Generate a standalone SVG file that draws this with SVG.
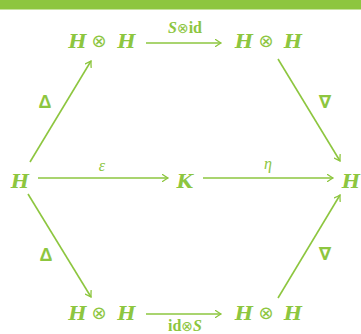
<svg xmlns="http://www.w3.org/2000/svg" width="361" height="334" viewBox="0 0 361 334">
<style>
.n{font-family:"DejaVu Serif",serif;font-weight:bold;font-style:italic;font-size:19px;fill:#8dc63f;text-anchor:middle}
.o{font-family:"DejaVu Sans",sans-serif;font-size:18px;fill:#8dc63f;text-anchor:middle}
.l{font-family:"Liberation Serif","DejaVu Serif",serif;font-size:16px;fill:#8dc63f;text-anchor:middle}
.b{font-weight:bold}
.i{font-style:italic}
.d{font-family:"Liberation Sans","DejaVu Sans",sans-serif;font-size:18px;font-weight:bold;fill:#8dc63f;text-anchor:middle}
.e{stroke:#8dc63f;stroke-width:1.6;fill:none}
</style>
<defs>
<marker id="ah" viewBox="-6 -4 7 8" refX="0" refY="0" markerWidth="7" markerHeight="8" markerUnits="userSpaceOnUse" orient="auto">
<path d="M-5.5,-3.5 Q-1.5,-0.8 0,0 Q-1.5,0.8 -5.5,3.5" fill="none" stroke="#8dc63f" stroke-width="1.3" stroke-linecap="round"/>
</marker>
</defs>
<rect x="0" y="0" width="361" height="9.5" fill="#8dc63f"/>
<g id="connectors">
<line class="e" x1="146" y1="43" x2="221" y2="43" marker-end="url(#ah)"/>
<line class="e" x1="146" y1="314" x2="221" y2="314" marker-end="url(#ah)"/>
<line class="e" x1="38" y1="178" x2="168" y2="178" marker-end="url(#ah)"/>
<line class="e" x1="203" y1="178" x2="333" y2="178" marker-end="url(#ah)"/>
<line class="e" x1="30" y1="162" x2="91" y2="61" marker-end="url(#ah)"/>
<line class="e" x1="278" y1="59" x2="340" y2="161" marker-end="url(#ah)"/>
<line class="e" x1="28" y1="194" x2="91" y2="297" marker-end="url(#ah)"/>
<line class="e" x1="278" y1="298" x2="340" y2="195" marker-end="url(#ah)"/>
<text class="l" x="185" y="33"><tspan class="b i">S</tspan><tspan font-family="DejaVu Sans" font-size="14">⊗</tspan><tspan class="b">id</tspan></text>
<text class="l" x="185" y="331"><tspan class="b">id</tspan><tspan font-family="DejaVu Sans" font-size="14">⊗</tspan><tspan class="b i">S</tspan></text>
<text class="l i" x="102" y="171">ε</text>
<text class="l i" x="268" y="169">η</text>
<text class="d" x="45" y="108">Δ</text>
<text class="d" x="325" y="108">∇</text>
<text class="d" x="46" y="261">Δ</text>
<text class="d" x="325" y="260">∇</text>
</g>
<g id="tl"><text class="n" x="77.5" y="48">H</text><text class="o" x="99" y="47">⊗</text><text class="n" x="126.5" y="48">H</text></g>
<g id="tr"><text class="n" x="244" y="48">H</text><text class="o" x="266" y="47">⊗</text><text class="n" x="293" y="48">H</text></g>
<g id="bl"><text class="n" x="77.5" y="320">H</text><text class="o" x="99" y="319">⊗</text><text class="n" x="126.5" y="320">H</text></g>
<g id="br"><text class="n" x="244" y="320">H</text><text class="o" x="266" y="319">⊗</text><text class="n" x="293" y="320">H</text></g>
<g id="left"><text class="n" x="20" y="188">H</text></g>
<g id="k"><text class="n" x="185" y="188">K</text></g>
<g id="right"><text class="n" x="351" y="188">H</text></g>
</svg>
